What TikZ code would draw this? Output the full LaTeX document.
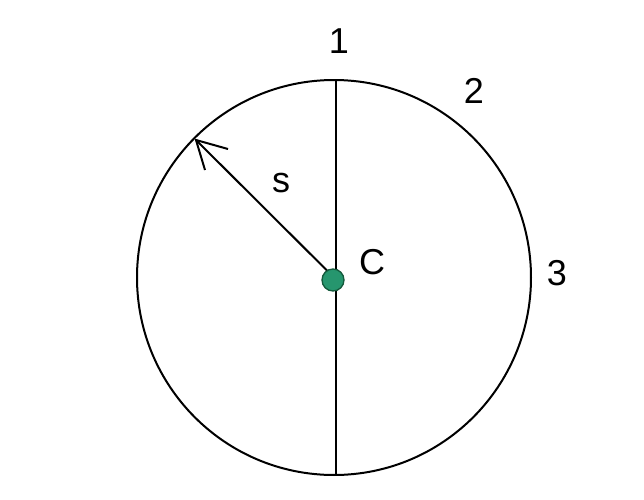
\documentclass[tikz,border=0pt]{standalone}
\usepackage{fontspec}
\setmainfont{Liberation Sans}
\definecolor{dotgreen}{RGB}{38,150,110}
\definecolor{dotedge}{RGB}{20,90,60}
\begin{document}
\begin{tikzpicture}[x=0.75pt,y=-0.75pt,
  lbl/.style={font=\fontsize{27}{30}\selectfont, inner sep=0pt},
  thinline/.style={line width=1.5pt}]
\useasboundingbox[fill=white] (0,0) rectangle (644,500);
\coordinate (c) at (334,277.5);
\coordinate (top) at (336,80);
\coordinate (bot) at (336,475);
\coordinate (tip) at (196,140);
\draw[thinline] (c) ellipse [x radius=197, y radius=197.5];
\draw[line width=2.2pt] (top) -- (bot);
\draw[thinline] (c) -- (tip);
\draw[thinline] (228,149) -- (tip) -- (205,170);
\node[circle, fill=dotgreen, draw=dotedge, line width=1pt, minimum size=16.5pt, inner sep=0pt] (dot) at (333,280) {};
\node[lbl] (l1) at (339,41) {1};
\node[lbl] (l2) at (474,91) {2};
\node[lbl] (l3) at (557,273) {3};
\node[lbl] (ls) at (281,183) {s};
\node[lbl] (lc) at (372,262) {C};
\end{tikzpicture}
\end{document}
